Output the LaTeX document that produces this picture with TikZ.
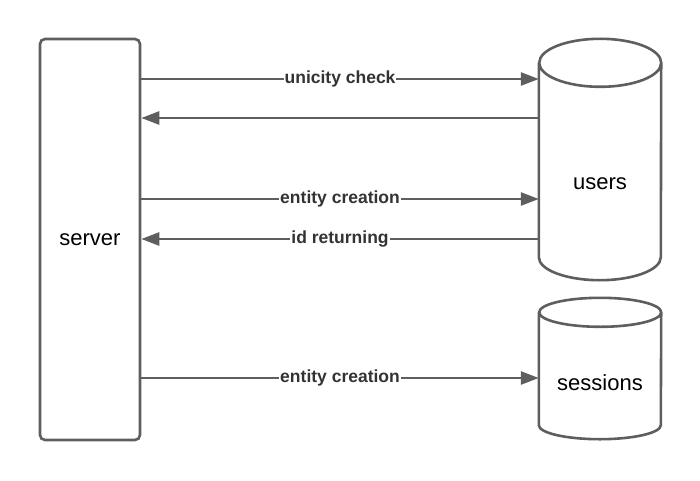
\documentclass[tikz,border=0pt]{standalone}
\usepackage{fontspec}
\setmainfont{Liberation Sans}
\usepackage{tikz}
\usetikzlibrary{arrows.meta, positioning}
\definecolor{edgegray}{HTML}{5E5E5E}
\definecolor{labelgray}{HTML}{333333}
\tikzset{
  box/.style={draw=edgegray, line width=2.6pt, rounded corners=5pt, minimum width=100pt, minimum height=401pt, inner sep=0pt, font=\fontsize{22}{26}\selectfont},
  dbbox/.style={minimum width=122pt, inner sep=0pt, font=\fontsize{22}{26}\selectfont},
  dbline/.style={draw=edgegray, line width=2.6pt},
  flow/.style={edgegray, line width=2.6pt, -{Triangle[length=18pt,width=13pt]}},
  flowlabel/.style={fill=white, inner sep=1pt, text=labelgray, font=\bfseries\fontsize{17.5}{20}\selectfont}
}
\begin{document}
\begin{tikzpicture}[x=1pt,y=1pt]
\useasboundingbox (0,0) rectangle (700,480);

\node[box] (server) at (90,240.5) {server};
\node[dbbox, minimum height=193pt] (users) at (600,296.5) {users};
\node[dbbox, minimum height=112pt] (sessions) at (600,97) {sessions};

% cylinders
\draw[dbline] ([yshift=24pt]users.north west) -- ([yshift=23pt]users.south west)
  arc[start angle=180, end angle=360, x radius=61pt, y radius=23pt]
  -- ([yshift=24pt]users.north east) arc[start angle=0, end angle=360, x radius=61pt, y radius=24pt];
\draw[dbline] ([yshift=14.5pt]sessions.north west) -- ([yshift=14pt]sessions.south west)
  arc[start angle=180, end angle=360, x radius=61pt, y radius=14pt]
  -- ([yshift=14.5pt]sessions.north east) arc[start angle=0, end angle=360, x radius=61pt, y radius=14.5pt];

% messages
\draw[flow] (server.east |- 0,401) -- node[flowlabel] (check) {unicity check} (users.west |- 0,401);
\draw[flow] (users.west |- 0,362) -- (server.east |- 0,362);
\draw[flow] (server.east |- 0,281) -- node[flowlabel] (create) {entity creation} (users.west |- 0,281);
\draw[flow] (users.west |- 0,241) -- node[flowlabel] (ret) {id returning} (server.east |- 0,241);
\draw[flow] (server.east |- 0,102) -- node[flowlabel] (session) {entity creation} (sessions.west |- 0,102);
\end{tikzpicture}
\end{document}
